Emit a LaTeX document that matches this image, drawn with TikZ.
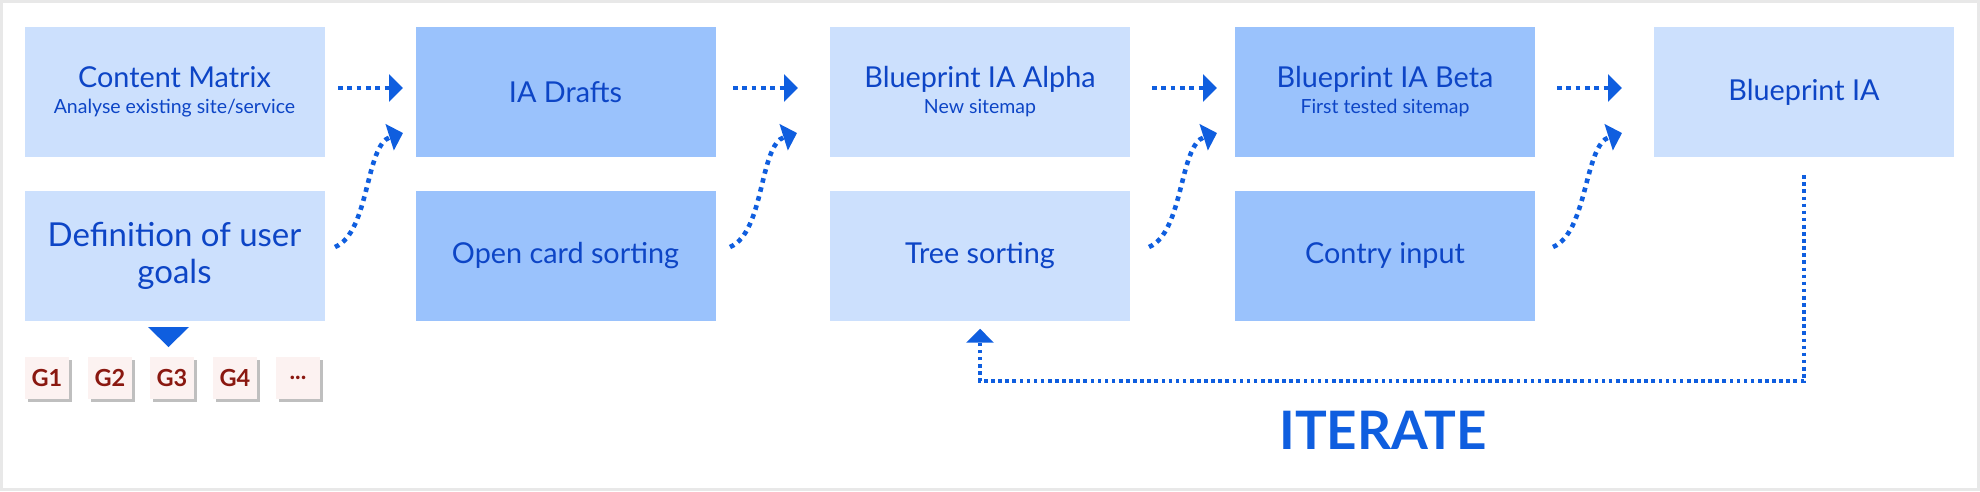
\documentclass[tikz,border=0pt]{standalone}
\usepackage{fontspec}
\setmainfont{Lato}
\usetikzlibrary{arrows.meta,shadows}
\definecolor{boxlight}{HTML}{CCE0FD}
\definecolor{boxdark}{HTML}{9AC2FC}
\definecolor{textblue}{HTML}{0D45C6}
\definecolor{arrowblue}{HTML}{0F5EDF}
\definecolor{gfill}{HTML}{FCF2F1}
\definecolor{gtext}{HTML}{8A1810}
\definecolor{framegray}{HTML}{E8E8E8}
\newcommand{\subfnt}{\fontsize{19.5}{26}\selectfont}
\begin{document}
\begin{tikzpicture}[x=1pt,y=-1pt,
  boxbase/.style={rectangle, minimum width=300pt, minimum height=130pt, inner sep=0pt,
    text=textblue, align=center, font=\fontsize{28.8}{26}\selectfont},
  boxL/.style={boxbase, fill=boxlight},
  boxD/.style={boxbase, fill=boxdark},
  gbox/.style={rectangle, minimum width=44pt, minimum height=42pt, inner sep=0pt,
    fill=gfill, text=gtext, font=\fontsize{23.5}{24}\selectfont\bfseries,
    drop shadow={shadow xshift=3pt, shadow yshift=-3pt, fill=black, opacity=0.25}},
  dotarrow/.style={draw=arrowblue, line width=4.6pt, dash pattern=on 4.6pt off 4.7pt,
    -{Triangle[length=14pt,width=27pt]}},
  iterline/.style={draw=arrowblue, line width=3.8pt, dash pattern=on 3.6pt off 3.5pt,
    -{Triangle[length=14pt,width=27pt]}}
]
\fill[white] (0,0) rectangle (1980,491);
\useasboundingbox (0,0) rectangle (1980,491);
\draw[framegray, line width=3pt] (1.5,1.5) rectangle (1978.5,489.5);

% top row
\node[boxL] (cm)  at (174.5,92) {Content Matrix\\{\subfnt Analyse existing site/service}};
\node[boxD] (iad) at (565.5,92) {IA Drafts};
\node[boxL] (bpa) at (980,92) {Blueprint IA Alpha\\{\subfnt New sitemap}};
\node[boxD] (bpb) at (1385,92) {Blueprint IA Beta\\{\subfnt First tested sitemap}};
\node[boxL] (bia) at (1804,92) {Blueprint IA};

% bottom row
\node[boxL, font=\fontsize{33}{37}\selectfont] (def) at (174.5,256) {Definition of user\\goals};
\node[boxD] (ocs) at (565.5,255.5) {Open card sorting};
\node[boxL] (ts)  at (980,255.5) {Tree sorting};
\node[boxD] (ci)  at (1385,255.5) {Contry input};

% goals
\fill[arrowblue] (148,327) -- (189,327) -- (168.5,347) -- cycle;
\node[gbox] (g1) at (47,378) {G1};
\node[gbox] (g2) at (110,378) {G2};
\node[gbox] (g3) at (172,378) {G3};
\node[gbox] (g4) at (235,378) {G4};
\node[gbox] (g5) at (298,378) {...};

% straight arrows
\coordinate (h1s) at (338,88);  \coordinate (h1e) at (403,88);
\coordinate (h2s) at (733,88);  \coordinate (h2e) at (798,88);
\coordinate (h3s) at (1152,88); \coordinate (h3e) at (1217,88);
\coordinate (h4s) at (1557,88); \coordinate (h4e) at (1622,88);
\draw[dotarrow] (h1s) -- (h1e);
\draw[dotarrow] (h2s) -- (h2e);
\draw[dotarrow] (h3s) -- (h3e);
\draw[dotarrow] (h4s) -- (h4e);

% curved arrows
\coordinate (c1s) at (335,247);  \coordinate (c1e) at (403,133);
\coordinate (c2s) at (730,247);  \coordinate (c2e) at (797,133);
\coordinate (c3s) at (1149,247); \coordinate (c3e) at (1217,133);
\coordinate (c4s) at (1553,247); \coordinate (c4e) at (1622,133);
\draw[dotarrow] (c1s) .. controls +(35,-15) and +(-38,12) .. (c1e);
\draw[dotarrow] (c2s) .. controls +(35,-15) and +(-38,12) .. (c2e);
\draw[dotarrow] (c3s) .. controls +(35,-15) and +(-38,12) .. (c3e);
\draw[dotarrow] (c4s) .. controls +(35,-15) and +(-38,12) .. (c4e);

% iterate loop
\draw[iterline] ([yshift=-18pt]bia.south) -- ++(0,206) -| ([yshift=-8pt]ts.south);
\node[text=arrowblue, font=\fontsize{53}{60}\selectfont\bfseries] (iter) at (1383,430.5) {ITERATE};
\end{tikzpicture}
\end{document}
